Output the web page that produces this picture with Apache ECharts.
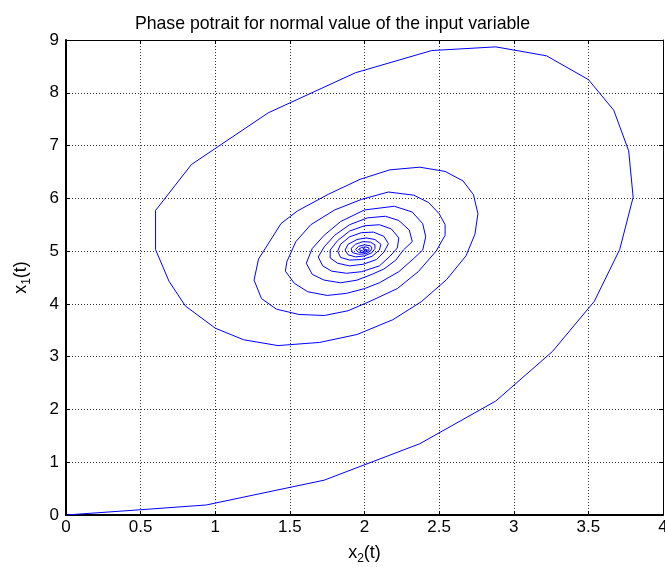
<!DOCTYPE html>
<html>
<head>
<meta charset="utf-8">
<script src="https://cdn.jsdelivr.net/npm/echarts@6/dist/echarts.min.js"></script>
<style>
html,body{margin:0;padding:0;background:#fff;}
#chart{width:665px;height:567px;}
</style>
</head>
<body>
<div id="chart"></div>
<script>
// Phase trajectory points [x2, x1], grouped by spiral turn
const turn1 = [[0,0],[0.50,0.10],[0.94,0.19],[1.73,0.66],[2.37,1.35],[2.88,2.16],[3.26,3.10],[3.54,4.05],[3.71,5.03],[3.80,6.02],[3.77,6.90],[3.67,7.67],[3.50,8.25],[3.22,8.70],[2.88,8.87],[2.45,8.80],[1.94,8.38],[1.355,7.62],[0.84,6.64],[0.60,5.77],[0.60,5.03],[0.69,4.43],[0.80,3.96],[1.00,3.54],[1.19,3.32],[1.42,3.21],[1.70,3.27],[1.95,3.42],[2.19,3.70],[2.38,4.04],[2.55,4.46],[2.68,4.91]];
const turn2 = [[2.74,5.32],[2.76,5.71],[2.73,6.07],[2.66,6.33],[2.54,6.51],[2.37,6.59],[2.17,6.54],[1.97,6.36],[1.76,6.08],[1.55,5.76],[1.44,5.52],[1.38,5.25],[1.29,4.85],[1.26,4.45],[1.31,4.10],[1.41,3.90],[1.56,3.80],[1.73,3.78],[1.89,3.87],[2.03,4.04],[2.22,4.29],[2.36,4.61],[2.48,5.00]];
const turn3 = [[2.54,5.30],[2.54,5.50],[2.50,5.71],[2.43,5.92],[2.33,6.06],[2.16,6.12],[1.98,5.98],[1.80,5.78],[1.64,5.50],[1.54,5.18],[1.48,4.80],[1.47,4.62],[1.53,4.39],[1.62,4.23],[1.75,4.16],[1.88,4.20],[2.00,4.29],[2.10,4.40],[2.23,4.61],[2.33,4.86],[2.39,5.02]];
const turn4 = [[2.41,5.27],[2.39,5.52],[2.32,5.74],[2.20,5.85],[2.00,5.78],[1.84,5.56],[1.73,5.30],[1.65,5.05],[1.61,4.77],[1.65,4.56],[1.73,4.45],[1.84,4.40],[1.95,4.45],[2.05,4.56],[2.13,4.66],[2.21,4.83],[2.26,5.02]];
const turn5 = [[2.32,5.18],[2.30,5.40],[2.23,5.58],[2.14,5.66],[2.02,5.63],[1.90,5.50],[1.80,5.30],[1.73,5.08],[1.69,4.89],[1.72,4.72],[1.78,4.62],[1.88,4.58],[1.98,4.61],[2.10,4.72],[2.17,4.90],[2.22,5.06]];
const turn6 = [[2.23,5.25],[2.18,5.42],[2.10,5.50],[2.00,5.48],[1.90,5.38],[1.82,5.20],[1.77,5.02],[1.77,4.87],[1.82,4.77],[1.90,4.72],[1.99,4.75],[2.08,4.84],[2.13,4.98]];
const turn7 = [[2.16,5.14],[2.13,5.28],[2.06,5.36],[1.98,5.35],[1.90,5.27],[1.84,5.13],[1.82,5.00],[1.84,4.88],[1.90,4.83],[1.98,4.84],[2.05,4.90],[2.10,5.02]];
const turn8 = [[2.11,5.13],[2.07,5.22],[2.01,5.25],[1.95,5.22],[1.89,5.13],[1.87,5.02],[1.89,4.93],[1.94,4.89],[2.00,4.91],[2.05,4.97],[2.07,5.05]];
const turn9 = [[2.07,5.12],[2.04,5.17],[1.99,5.18],[1.94,5.13],[1.91,5.05],[1.92,4.97],[1.96,4.94],[2.01,4.95],[2.04,5.00],[2.05,5.06]];
const turnRest = [[2.04,5.10],[2.00,5.12],[1.96,5.09],[1.94,5.03],[1.96,4.98],[2.00,4.97],[2.03,5.01],[2.03,5.06],[2.01,5.08],[1.98,5.07],[1.96,5.03],[1.97,5.00],[2.00,4.99],[2.02,5.02],[2.01,5.05],[1.99,5.05],[1.98,5.02],[2.00,5.01],[2.01,5.03],[2.00,5.03]];

const xTicks = {min: 0, max: 4, interval: 0.5};
const yTicks = {min: 0, max: 9, interval: 1};

const titleText = 'Phase potrait for normal value of the input variable';

const trajectory = [].concat(turn1, turn2, turn3, turn4, turn5, turn6, turn7, turn8, turn9, turnRest);

const FONT = 'Liberation Sans, Arial, sans-serif';
const gridLine = {show: true, lineStyle: {color: '#333', type: [1, 2], width: 1}};
const nameRich = {
  b: {fontSize: 18, fontFamily: FONT, color: '#000'},
  s: {fontSize: 12, fontFamily: FONT, color: '#000', padding: [11, 0, 0, 0]}
};

const chart = echarts.init(document.getElementById('chart'), null, {renderer: 'canvas'});
chart.setOption({
  animation: false,
  backgroundColor: '#fff',
  title: {
    text: titleText, left: 'center', top: 10,
    textStyle: {fontSize: 17.7, fontWeight: 'normal', fontFamily: FONT, color: '#000'}
  },
  grid: {left: 66, right: 2, top: 40, bottom: 52, containLabel: false, outerBoundsMode: 'none'},
  xAxis: [{
    type: 'value', min: xTicks.min, max: xTicks.max, interval: xTicks.interval,
    name: '{b|x}{s|2}{b|(t)}', nameLocation: 'middle', nameGap: 27,
    nameTextStyle: {rich: nameRich},
    axisLine: {show: true, onZero: false, lineStyle: {color: '#000', width: 2}},
    axisTick: {show: true, inside: true, length: 4, lineStyle: {color: '#000'}},
    axisLabel: {fontSize: 17, fontFamily: FONT, color: '#000', margin: 4},
    splitLine: gridLine
  }, {
    type: 'value', position: 'top', min: xTicks.min, max: xTicks.max, interval: xTicks.interval,
    axisLine: {show: true, onZero: false, lineStyle: {color: '#000', width: 1}},
    axisTick: {show: true, inside: true, length: 4, lineStyle: {color: '#000'}},
    axisLabel: {show: false}, splitLine: {show: false}
  }],
  yAxis: [{
    type: 'value', min: yTicks.min, max: yTicks.max, interval: yTicks.interval,
    name: '{b|x}{s|1}{b|(t)}', nameLocation: 'middle', nameGap: 33, nameRotate: 90,
    nameTextStyle: {rich: nameRich},
    axisLine: {show: true, onZero: false, lineStyle: {color: '#000', width: 2}},
    axisTick: {show: true, inside: true, length: 4, lineStyle: {color: '#000'}},
    axisLabel: {fontSize: 17, fontFamily: FONT, color: '#000', margin: 7},
    splitLine: gridLine
  }, {
    type: 'value', position: 'right', min: yTicks.min, max: yTicks.max, interval: yTicks.interval,
    axisLine: {show: true, onZero: false, lineStyle: {color: '#000', width: 1}},
    axisTick: {show: true, inside: true, length: 4, lineStyle: {color: '#000'}},
    axisLabel: {show: false}, splitLine: {show: false}
  }],
  series: [{
    type: 'line', xAxisIndex: 0, yAxisIndex: 0,
    data: trajectory, showSymbol: false, smooth: false,
    lineStyle: {color: '#0000ff', width: 1},
    clip: true
  }]
});
</script>
</body>
</html>
